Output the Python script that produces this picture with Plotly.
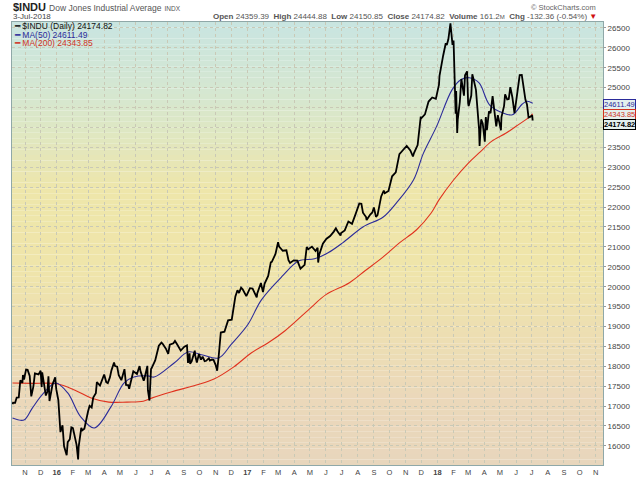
import plotly.graph_objects as go

# $INDU daily closes (thinned to the visible swings)
price_dates = [
    "2015-10-08", "2015-10-09", "2015-10-13", "2015-10-15", "2015-10-16", "2015-10-20", "2015-10-22",
    "2015-10-23", "2015-10-27", "2015-10-28", "2015-10-30", "2015-11-03", "2015-11-06", "2015-11-10",
    "2015-11-13", "2015-11-17", "2015-11-20", "2015-11-27", "2015-12-01", "2015-12-03", "2015-12-04",
    "2015-12-08", "2015-12-11", "2015-12-14", "2015-12-16", "2015-12-18", "2015-12-22", "2015-12-24",
    "2015-12-29", "2015-12-31", "2016-01-04", "2016-01-07", "2016-01-08", "2016-01-12", "2016-01-15",
    "2016-01-20", "2016-01-22", "2016-01-26", "2016-01-29", "2016-02-01", "2016-02-03", "2016-02-05",
    "2016-02-08", "2016-02-11", "2016-02-12", "2016-02-17", "2016-02-19", "2016-02-23", "2016-02-26",
    "2016-03-01", "2016-03-04", "2016-03-08", "2016-03-11", "2016-03-16", "2016-03-18", "2016-03-24",
    "2016-04-01", "2016-04-05", "2016-04-08", "2016-04-12", "2016-04-15", "2016-04-20", "2016-04-22",
    "2016-04-26", "2016-04-29", "2016-05-04", "2016-05-06", "2016-05-10", "2016-05-13", "2016-05-17",
    "2016-05-19", "2016-05-20", "2016-05-24", "2016-05-27", "2016-06-03", "2016-06-08", "2016-06-10",
    "2016-06-13", "2016-06-16", "2016-06-17", "2016-06-23", "2016-06-24", "2016-06-27", "2016-06-30",
    "2016-07-01", "2016-07-08", "2016-07-12", "2016-07-15", "2016-07-20", "2016-07-22", "2016-07-27",
    "2016-07-29", "2016-08-02", "2016-08-05", "2016-08-12", "2016-08-15", "2016-08-19", "2016-08-26",
    "2016-09-02", "2016-09-07", "2016-09-09", "2016-09-12", "2016-09-13", "2016-09-16", "2016-09-22",
    "2016-09-23", "2016-09-26", "2016-09-30", "2016-10-04", "2016-10-07", "2016-10-11", "2016-10-14",
    "2016-10-19", "2016-10-21", "2016-10-25", "2016-10-28", "2016-11-01", "2016-11-04", "2016-11-07",
    "2016-11-09", "2016-11-11", "2016-11-18", "2016-11-22", "2016-11-25", "2016-12-02", "2016-12-07",
    "2016-12-09", "2016-12-13", "2016-12-16", "2016-12-20", "2016-12-23", "2016-12-30", "2017-01-06",
    "2017-01-11", "2017-01-13", "2017-01-19", "2017-01-20", "2017-01-25", "2017-01-27", "2017-01-31",
    "2017-02-03", "2017-02-10", "2017-02-15", "2017-02-17", "2017-02-24", "2017-03-01", "2017-03-03",
    "2017-03-10", "2017-03-17", "2017-03-21", "2017-03-24", "2017-03-31", "2017-04-07", "2017-04-13",
    "2017-04-18", "2017-04-21", "2017-04-25", "2017-04-28", "2017-05-05", "2017-05-12", "2017-05-16",
    "2017-05-17", "2017-05-19", "2017-05-26", "2017-06-02", "2017-06-09", "2017-06-16", "2017-06-20",
    "2017-06-23", "2017-06-29", "2017-06-30", "2017-07-07", "2017-07-14", "2017-07-21", "2017-07-28",
    "2017-08-04", "2017-08-08", "2017-08-11", "2017-08-17", "2017-08-18", "2017-08-25", "2017-08-29",
    "2017-09-01", "2017-09-05", "2017-09-08", "2017-09-15", "2017-09-20", "2017-09-22", "2017-09-29",
    "2017-10-06", "2017-10-13", "2017-10-18", "2017-10-20", "2017-10-27", "2017-11-03", "2017-11-10",
    "2017-11-15", "2017-11-17", "2017-11-24", "2017-11-30", "2017-12-01", "2017-12-08", "2017-12-15",
    "2017-12-22", "2017-12-29", "2018-01-04", "2018-01-05", "2018-01-12", "2018-01-17", "2018-01-19",
    "2018-01-22", "2018-01-26", "2018-01-30", "2018-02-01", "2018-02-02", "2018-02-05", "2018-02-06",
    "2018-02-08", "2018-02-09", "2018-02-13", "2018-02-16", "2018-02-21", "2018-02-23", "2018-02-27",
    "2018-03-01", "2018-03-02", "2018-03-07", "2018-03-09", "2018-03-12", "2018-03-16", "2018-03-22",
    "2018-03-23", "2018-03-26", "2018-03-29", "2018-04-02", "2018-04-04", "2018-04-06", "2018-04-10",
    "2018-04-13", "2018-04-17", "2018-04-20", "2018-04-24", "2018-04-27", "2018-05-03", "2018-05-04",
    "2018-05-09", "2018-05-11", "2018-05-15", "2018-05-18", "2018-05-21", "2018-05-25", "2018-05-29",
    "2018-06-01", "2018-06-06", "2018-06-08", "2018-06-12", "2018-06-15", "2018-06-19", "2018-06-22",
    "2018-06-25", "2018-06-29", "2018-07-02", "2018-07-03",
]
price_close = [
    17050, 17084, 17081, 17142, 17216, 17218, 17489,
    17647, 17581, 17780, 17664, 17918, 17910, 17758,
    17245, 17490, 17824, 17798, 17888, 17478, 17848,
    17568, 17265, 17368, 17750, 17128, 17418, 17553,
    17720, 17425, 17149, 16514, 16347, 16516, 15988,
    15766, 16094, 16167, 16466, 16449, 16336, 16205,
    16027, 15660, 15974, 16454, 16392, 16432, 16640,
    16865, 17007, 16965, 17213, 17326, 17602, 17516,
    17793, 17603, 17577, 17721, 17898, 18096, 18004,
    17990, 17774, 17651, 17741, 17928, 17535, 17530,
    17436, 17501, 17706, 17873, 17807, 18005, 17865,
    17732, 17641, 17675, 18011, 17400, 17140, 17930,
    17949, 18147, 18348, 18517, 18596, 18571, 18473,
    18432, 18313, 18543, 18576, 18636, 18553, 18395,
    18492, 18526, 18085, 18325, 18067, 18124, 18393,
    18261, 18094, 18308, 18168, 18240, 18129, 18138,
    18203, 18146, 18169, 18161, 18037, 17888, 18260,
    18590, 18848, 18868, 19024, 19153, 19171, 19549,
    19757, 19912, 19843, 19975, 19934, 19763, 19964,
    19954, 19886, 19732, 19827, 20069, 20094, 19864,
    20071, 20269, 20612, 20624, 20822, 21116, 21005,
    20903, 20915, 20669, 20597, 20663, 20656, 20453,
    20523, 20548, 20997, 20941, 21007, 20897, 20980,
    20606, 20805, 21080, 21206, 21272, 21384, 21468,
    21395, 21287, 21350, 21414, 21638, 21580, 21830,
    22092, 22085, 21858, 21751, 21675, 21814, 21865,
    21988, 21754, 21798, 22268, 22412, 22350, 22405,
    22774, 22871, 23157, 23329, 23434, 23539, 23422,
    23271, 23358, 23558, 24272, 24231, 24329, 24652,
    24754, 24719, 25075, 25296, 25803, 26116, 26072,
    26214, 26617, 26077, 26187, 25521, 24346, 24913,
    23860, 24191, 24640, 25219, 24798, 25310, 25410,
    24609, 24538, 24801, 25336, 25179, 24946, 23958,
    23533, 24202, 24103, 23644, 24264, 23933, 24408,
    24360, 24787, 24463, 24025, 24311, 23930, 24263,
    24543, 24831, 24706, 24715, 25013, 24753, 24362,
    24635, 25146, 25317, 25320, 25090, 24700, 24581,
    24253, 24271, 24307, 24175,
]

# 50-day moving average
ma50_dates = [
    "2015-10-08", "2015-10-30", "2015-11-15", "2015-12-07", "2015-12-30", "2016-01-22", "2016-02-16",
    "2016-03-13", "2016-04-14", "2016-05-09", "2016-05-28", "2016-06-24", "2016-07-06", "2016-08-14",
    "2016-09-09", "2016-10-05", "2016-11-07", "2016-12-01", "2017-01-02", "2017-01-28", "2017-03-08",
    "2017-04-10", "2017-05-10", "2017-06-05", "2017-07-03", "2017-08-11", "2017-09-19", "2017-10-14",
    "2017-11-16", "2017-12-05", "2017-12-30", "2018-01-29", "2018-02-15", "2018-03-03", "2018-03-22",
    "2018-04-11", "2018-05-06", "2018-05-25", "2018-06-13", "2018-06-22", "2018-07-03",
]
ma50_values = [
    16700, 16650, 16950, 17330, 17580, 17330, 16730,
    16450, 16980, 17580, 17730, 17760, 17730, 18090,
    18360, 18290, 18210, 18550, 19050, 19670, 20250,
    20650, 20700, 20850, 21100, 21500, 21750, 22100,
    22680, 23350, 24015, 24945, 25200, 25250, 25120,
    24570, 24370, 24320, 24590, 24660, 24611,
]

# 200-day moving average
ma200_dates = [
    "2015-10-08", "2015-11-15", "2016-01-01", "2016-02-05", "2016-03-07", "2016-04-10", "2016-05-15",
    "2016-06-15", "2016-07-01", "2016-08-09", "2016-09-25", "2016-10-29", "2016-12-06", "2017-01-09",
    "2017-02-10", "2017-03-15", "2017-05-01", "2017-06-01", "2017-07-16", "2017-08-15", "2017-09-19",
    "2017-10-20", "2017-11-22", "2017-12-20", "2018-01-04", "2018-02-01", "2018-03-01", "2018-03-22",
    "2018-04-15", "2018-05-13", "2018-06-01", "2018-06-27", "2018-07-03",
]
ma200_values = [
    17580, 17570, 17560, 17400, 17205, 17100, 17100,
    17120, 17200, 17360, 17530, 17680, 17985, 18340,
    18590, 18900, 19450, 19800, 20100, 20400, 20750,
    21100, 21430, 21850, 22180, 22680, 23100, 23360,
    23650, 23860, 24030, 24266, 24344,
]

month_ticks = [
    "2015-11-01", "2015-12-01", "2016-01-01", "2016-02-01", "2016-03-01", "2016-04-01", "2016-05-01",
    "2016-06-01", "2016-07-01", "2016-08-01", "2016-09-01", "2016-10-01", "2016-11-01", "2016-12-01",
    "2017-01-01", "2017-02-01", "2017-03-01", "2017-04-01", "2017-05-01", "2017-06-01", "2017-07-01",
    "2017-08-01", "2017-09-01", "2017-10-01", "2017-11-01", "2017-12-01", "2018-01-01", "2018-02-01",
    "2018-03-01", "2018-04-01", "2018-05-01", "2018-06-01", "2018-07-01", "2018-08-01", "2018-09-01",
    "2018-10-01", "2018-11-01",
]
month_labels = [
    "N", "D", "<b>16</b>", "F", "M", "A", "M", "J", "J", "A", "S", "O", "N", "D",
    "<b>17</b>", "F", "M", "A", "M", "J", "J", "A", "S", "O", "N", "D",
    "<b>18</b>", "F", "M", "A", "M", "J", "J", "A", "S", "O", "N",
]

FONT = "Liberation Sans, Arial, sans-serif"

fig = go.Figure()

fig.add_trace(go.Scatter(x=ma200_dates, y=ma200_values, mode="lines", name="MA(200)",
                         line=dict(color="#e0321e", width=1.1, shape="spline", smoothing=1.0)))
fig.add_trace(go.Scatter(x=ma50_dates, y=ma50_values, mode="lines", name="MA(50)",
                         line=dict(color="#2b2b9a", width=1.1, shape="spline", smoothing=1.0)))
fig.add_trace(go.Scatter(x=price_dates, y=price_close, mode="lines", name="$INDU",
                         line=dict(color="#000000", width=1.8)))

# gradient background as thin horizontal bands
stops = [(0.0, (232, 214, 188)), (0.15, (235, 216, 186)), (0.45, (239, 229, 170)),
         (0.62, (238, 230, 170)), (0.82, (215, 231, 206)), (1.0, (201, 229, 225))]
n_bands = 80
for i in range(n_bands):
    f = (i + 0.5) / n_bands
    for (f0, c0), (f1, c1) in zip(stops[:-1], stops[1:]):
        if f0 <= f <= f1:
            t = (f - f0) / (f1 - f0)
            col = tuple(round(a + (b - a) * t) for a, b in zip(c0, c1))
            break
    fig.add_shape(type="rect", xref="paper", yref="paper", x0=0, x1=1,
                  y0=i / n_bands, y1=(i + 1) / n_bands, layer="below",
                  line=dict(width=0), fillcolor="rgb(%d,%d,%d)" % col)

fig.update_layout(
    width=640, height=477,
    margin=dict(l=12, r=37, t=22, b=12, autoexpand=False),
    paper_bgcolor="white",
    plot_bgcolor="rgba(0,0,0,0)",
    showlegend=False,
    font=dict(family=FONT, size=9, color="#444444"),
)

fig.update_xaxes(
    range=["2015-10-07", "2018-11-15"],
    tickvals=month_ticks, ticktext=month_labels,
    tickfont=dict(size=7.5, color="#444444"),
    ticks="", ticklabelstandoff=0,
    showgrid=True, gridcolor="#c9c9b6", griddash="dot", gridwidth=1,
    showline=True, linecolor="#8fa8a8", linewidth=1, mirror=True,
    zeroline=False, automargin=False,
)
fig.update_yaxes(
    side="right",
    range=[15520, 26650],
    dtick=500, tickformat="d",
    tickfont=dict(size=8, color="#444444"),
    ticks="outside", ticklen=2, tickcolor="#999999",
    showgrid=True, gridcolor="#c9c9b6", griddash="dot", gridwidth=1,
    showline=True, linecolor="#8fa8a8", linewidth=1, mirror=True,
    zeroline=False, automargin=False,
)

# header
fig.add_annotation(xref="paper", yref="paper", x=0, y=(465 - 7) / 443, xanchor="left", yanchor="middle",
                   text="<b>$INDU</b> <span style='font-size:8.5px;color:#555'>Dow Jones Industrial Average</span>"
                        " <span style='font-size:6.5px;color:#555'>INDX</span>",
                   font=dict(size=11, color="#222222"), showarrow=False, xshift=-1)
fig.add_annotation(xref="paper", yref="paper", x=0, y=(465 - 16.5) / 443, xanchor="left", yanchor="middle",
                   text="3-Jul-2018", font=dict(size=8, color="#444444"), showarrow=False, xshift=-1)
fig.add_annotation(xref="paper", yref="paper", x=1, y=(465 - 16.5) / 443, xanchor="right", yanchor="middle",
                   text="<b>Open</b> 24359.39  <b>High</b> 24444.88  <b>Low</b> 24150.85  "
                        "<b>Close</b> 24174.82  <b>Volume</b> 161.2<span style='font-size:6px'>M</span>  "
                        "<b>Chg</b> -132.36 (-0.54%) <span style='color:#d01010'>▼</span>",
                   font=dict(size=8, color="#555555"), showarrow=False, xshift=-4)
fig.add_annotation(xref="paper", yref="paper", x=1, y=(465 - 7) / 443, xanchor="right", yanchor="middle",
                   text="© StockCharts.com", font=dict(size=7.5, color="#666666"), showarrow=False, xshift=-5)

# legend inside the plot
legend_rows = [("━ $INDU (Daily) 24174.82", "#111111", 26),
               ("━ MA(50) 24611.49", "#2b2b9a", 34.5),
               ("━ MA(200) 24343.85", "#d0321e", 43)]
for txt, col, py in legend_rows:
    fig.add_annotation(xref="paper", yref="paper", x=0, y=(465 - py) / 443, xanchor="left", yanchor="middle",
                       text=txt, font=dict(size=8.5, color=col), showarrow=False, xshift=0)

# last-value tags on the right axis
tags = [(24611.49, "24611.49", "#2b2b9a", "#2b2b9a", -1),
        (24343.85, "24343.85", "#d0321e", "#d0321e", -1),
        (24174.82, "<b>24174.82</b>", "#000000", "#000000", -4)]
for val, txt, border, col, shift in tags:
    fig.add_annotation(xref="paper", yref="y", x=1, y=val, xanchor="left", yanchor="middle",
                       text=txt, font=dict(size=7.5, color=col), showarrow=False,
                       bgcolor="#e4f0ee", bordercolor=border, borderwidth=1, borderpad=0,
                       yshift=shift, xshift=0)

# the page's default 8px body margin would push the 640x477 figure off the window
fig.write_html("out.html", config={"displayModeBar": False},
               post_script="document.body.style.margin='0px';")
